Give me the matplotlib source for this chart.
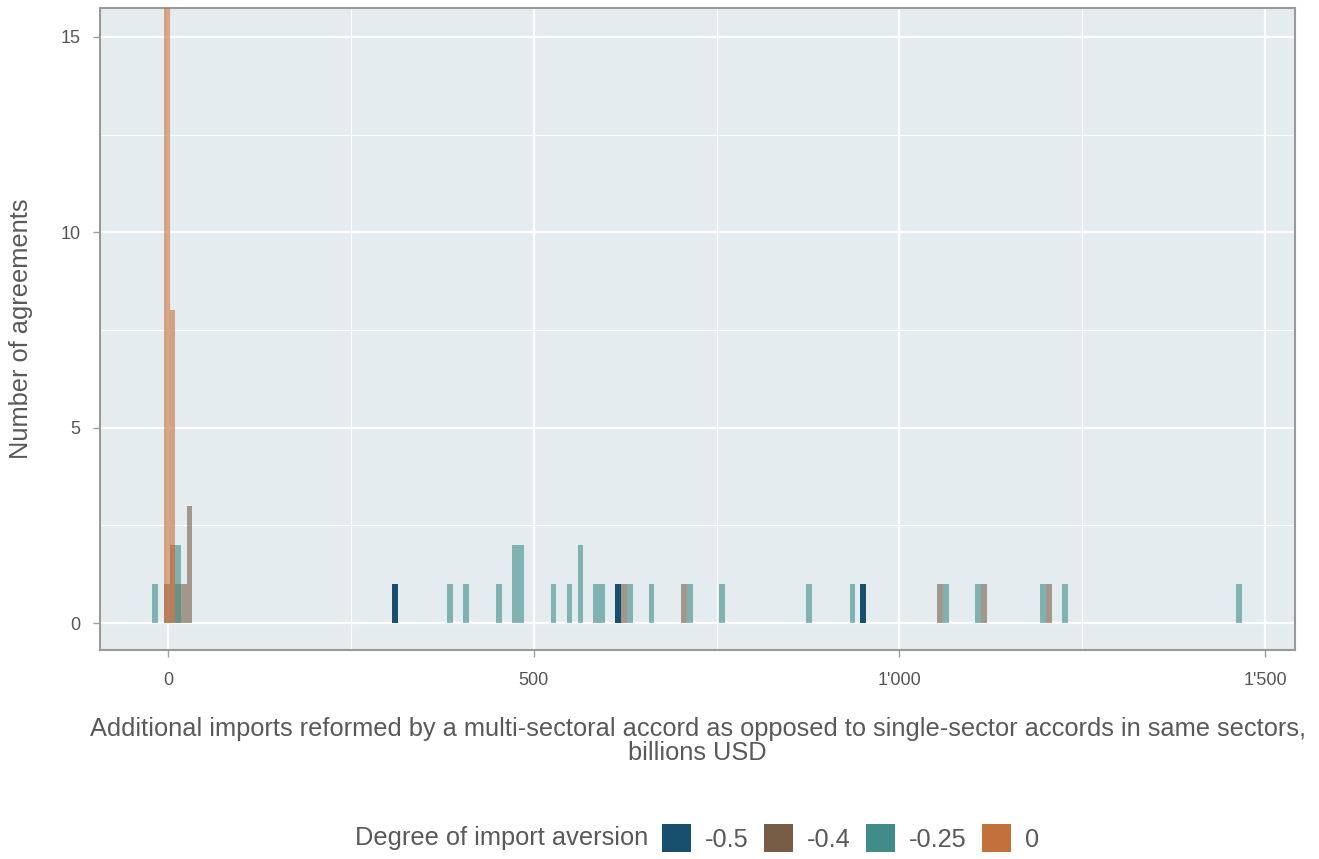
import matplotlib
matplotlib.use("Agg")
import matplotlib.pyplot as plt
from matplotlib.patches import Patch
from matplotlib.ticker import MultipleLocator, FuncFormatter

plt.rcParams['font.family'] = ['Liberation Sans', 'DejaVu Sans']

# Histogram bins (bin centres, billions USD) and agreement counts per import-aversion level
bin_width = 7.8

x_m050 = [310.4, 615.3, 950.4]
n_m050 = [1, 1, 1]

x_m040 = [-1.6, 6.2, 14.0, 21.8, 29.5, 623.5, 706.0, 1055.2, 1115.6, 1204.7]
n_m040 = [1, 2, 1, 1, 3, 1, 1, 1, 1, 1]

x_m025 = [-17.4, 14.0, 385.2, 407.9, 453.0, 474.6, 482.4, 526.9, 548.8, 564.1,
          585.5, 593.6, 631.3, 660.9, 713.8, 757.1, 876.5, 936.1, 1063.4,
          1107.6, 1196.1, 1226.9, 1464.4]
n_m025 = [1, 2, 1, 1, 1, 2, 2, 1, 1, 2,
          1, 1, 1, 1, 1, 1, 1, 1, 1,
          1, 1, 1, 1]

x_000 = [-1.6, 6.2]
n_000 = [16, 8]

levels = ["-0.5", "-0.4", "-0.25", "0"]
colors = ["#16506E", "#775D46", "#3F8C89", "#C4703A"]
alphas = [1.0, 0.6, 0.6, 0.6]
series = [(x_m050, n_m050), (x_m040, n_m040), (x_m025, n_m025), (x_000, n_000)]

label_size = 18.3
fig = plt.figure(figsize=(13.19, 8.59), dpi=100)
ax = fig.add_axes([100 / 1319, 1 - 650 / 859, 1195 / 1319, 642 / 859])
ax.set_facecolor("#E5ECF0")

for (xs, ns), c, a in zip(series, colors, alphas):
    ax.bar(xs, ns, width=bin_width, color=c, alpha=a, linewidth=0, zorder=3)

ax.set_xlim(-93, 1541)
ax.set_ylim(-0.69, 15.74)

ax.xaxis.set_major_locator(MultipleLocator(500))
ax.xaxis.set_minor_locator(MultipleLocator(250))
ax.yaxis.set_major_locator(MultipleLocator(5))
ax.yaxis.set_minor_locator(MultipleLocator(2.5))
ax.xaxis.set_major_formatter(FuncFormatter(lambda v, p: f"{int(v):,}".replace(",", "'")))

ax.grid(which="major", color="white", linewidth=1.6, zorder=1)
ax.grid(which="minor", color="white", linewidth=0.8, zorder=1)
ax.set_axisbelow(True)

for s in ax.spines.values():
    s.set_color("#9A9A9A")
    s.set_linewidth(1.5)

ax.tick_params(which="major", length=5, width=1, color="#A0A0A0",
               labelsize=13, labelcolor="#555555")
ax.tick_params(axis="x", which="major", pad=11)
ax.tick_params(axis="y", which="major", pad=9)
ax.tick_params(which="minor", length=0)

ax.set_xlabel("Additional imports reformed by a multi-sectoral accord as opposed to single-sector accords in same sectors,\nbillions USD",
              fontsize=label_size, color="#595959", labelpad=20, linespacing=1.0)
ax.set_ylabel("Number of agreements", fontsize=label_size, color="#595959", labelpad=20)

# Legend: title on the left, keys in one row
fig.text(648 / 1319, 1 - 838 / 859, "Degree of import aversion", fontsize=label_size,
         color="#595959", ha="right", va="center")
handles = [Patch(facecolor=c, edgecolor="none") for c in colors]
fig.legend(handles, levels, loc="center left", bbox_to_anchor=(662 / 1319, 1 - 838 / 859),
           ncol=4, frameon=False, fontsize=label_size, labelcolor="#595959",
           handlelength=1.14, handleheight=1.3, handletextpad=0.55,
           columnspacing=0.6, borderpad=0, borderaxespad=0)

fig.savefig("out.png", dpi=100)
